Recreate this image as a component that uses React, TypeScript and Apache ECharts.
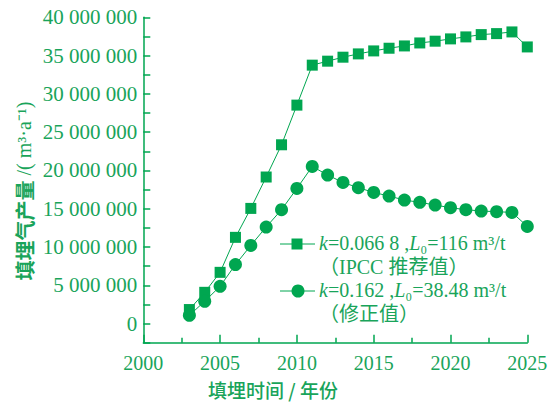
import React, { useEffect, useRef } from "react";
import * as echarts from "echarts";

// Landfill gas generation per year, two parameter sets
const years = [
  2003, 2004, 2005, 2006, 2007, 2008, 2009, 2010, 2011, 2012, 2013, 2014,
  2015, 2016, 2017, 2018, 2019, 2020, 2021, 2022, 2023, 2024, 2025,
];
const ipccValues = [
  1830000, 4080000, 6690000, 11260000, 15040000, 19140000, 23350000, 28530000,
  33750000, 34270000, 34790000, 35220000, 35610000, 35960000, 36260000,
  36650000, 36880000, 37180000, 37440000, 37740000, 37870000, 38090000,
  36130000,
];
const correctedValues = [
  1080000, 2910000, 4870000, 7700000, 10210000, 12610000, 14870000, 17650000,
  20520000, 19400000, 18430000, 17740000, 17130000, 16650000, 16130000,
  15830000, 15480000, 15130000, 14870000, 14700000, 14610000, 14520000,
  12690000,
];

const ipccLabel = "{i|k}=0.066 8 ,{i|L}₀=116 m³/t";
const ipccNote = "（IPCC 推荐值）";
const correctedLabel = "{i|k}=0.162 ,{i|L}₀=38.48 m³/t";
const correctedNote = "（修正值）";
const xTitle = "填埋时间 / 年份";
const yTitleName = "填埋气产量";
const yTitleUnit = " /( m³·a⁻¹)";

const GREEN = "#00a650";
const TEXT = "#19a45a";
const SERIF = "Liberation Serif";
const MIXED = "Liberation Serif, Noto Sans CJK SC";
const SANS = "Noto Sans CJK SC";

const fmt = (v: number) =>
  String(v).replace(/\B(?=(\d{3})+(?!\d))/g, " ");

export default function App() {
  const ref = useRef<HTMLDivElement>(null);

  useEffect(() => {
    document.body.style.margin = "0";
    if (!ref.current) return;
    const chart = echarts.init(ref.current, undefined, { renderer: "svg" });

    const legendText = (x: number, y: number, text: string) => ({
      type: "text",
      x,
      y,
      style: {
        text,
        fill: TEXT,
        fontSize: 20,
        fontFamily: MIXED,
        verticalAlign: "middle",
        align: "left",
        rich: {
          i: { fontStyle: "italic", fontSize: 20, fontFamily: SERIF, fill: TEXT },
        },
      },
    });

    chart.setOption({
      animation: false,
      grid: { left: 143.3, right: 25.7, top: 17.3, bottom: 59.3 },
      xAxis: {
        type: "value",
        min: 2000,
        max: 2025,
        interval: 5,
        axisLine: { onZero: false, lineStyle: { color: GREEN, width: 1.5 } },
        axisTick: { inside: true, length: 8, lineStyle: { color: GREEN, width: 1.5 } },
        minorTick: { show: true, splitNumber: 2, length: 5, lineStyle: { color: GREEN, width: 1.5 } },
        splitLine: { show: false },
        axisLabel: {
          color: TEXT,
          fontSize: 20,
          fontFamily: SERIF,
          margin: 10,
          formatter: (v: number) => String(v),
        },
      },
      yAxis: {
        type: "value",
        min: -2500000,
        max: 40000000,
        interval: 2500000,
        axisLine: { show: true, lineStyle: { color: GREEN, width: 1.5 } },
        axisTick: { show: true, inside: true, length: 7, lineStyle: { color: GREEN, width: 1.5 } },
        splitLine: { show: false },
        axisLabel: {
          color: TEXT,
          fontSize: 21,
          fontFamily: SERIF,
          margin: 6,
          formatter: (v: number) => (v >= 0 && v % 5000000 === 0 ? fmt(v) : ""),
        },
      },
      series: [
        {
          type: "line",
          data: years.map((y, i) => [y, ipccValues[i]]),
          symbol: "rect",
          symbolSize: 11,
          itemStyle: { color: GREEN },
          lineStyle: { color: GREEN, width: 1 },
        },
        {
          type: "line",
          data: years.map((y, i) => [y, correctedValues[i]]),
          symbol: "circle",
          symbolSize: 13,
          itemStyle: { color: GREEN },
          lineStyle: { color: GREEN, width: 1 },
        },
      ],
      graphic: [
        // legend entry: IPCC parameters
        { type: "line", shape: { x1: 280, y1: 244, x2: 315, y2: 244 }, style: { stroke: GREEN, lineWidth: 1 } },
        { type: "rect", shape: { x: 291.5, y: 238.5, width: 11, height: 11 }, style: { fill: GREEN } },
        legendText(319, 243, ipccLabel),
        legendText(319, 267, ipccNote),
        // legend entry: corrected parameters
        { type: "line", shape: { x1: 280, y1: 291, x2: 315, y2: 291 }, style: { stroke: GREEN, lineWidth: 1 } },
        { type: "circle", shape: { cx: 298, cy: 291, r: 6.5 }, style: { fill: GREEN } },
        legendText(319, 290, correctedLabel),
        legendText(319, 313.5, correctedNote),
        // axis titles
        {
          type: "text",
          x: 273,
          y: 389,
          style: {
            text: xTitle,
            fill: TEXT,
            fontSize: 19,
            lineHeight: 19,
            fontWeight: 500,
            fontFamily: SANS,
            align: "center",
            verticalAlign: "middle",
          },
        },
        {
          type: "text",
          x: 24,
          y: 191,
          rotation: Math.PI / 2,
          style: {
            text: "{c|" + yTitleName + "}{u|" + yTitleUnit + "}",
            fill: TEXT,
            fontSize: 20,
            fontFamily: MIXED,
            align: "center",
            verticalAlign: "middle",
            rich: {
              c: { fontSize: 20, fontWeight: "bold", fontFamily: SANS, fill: TEXT },
              u: { fontSize: 20, fontFamily: MIXED, fill: TEXT },
            },
          },
        },
      ],
    });

    return () => chart.dispose();
  }, []);

  return <div ref={ref} style={{ width: 553, height: 402 }} />;
}
